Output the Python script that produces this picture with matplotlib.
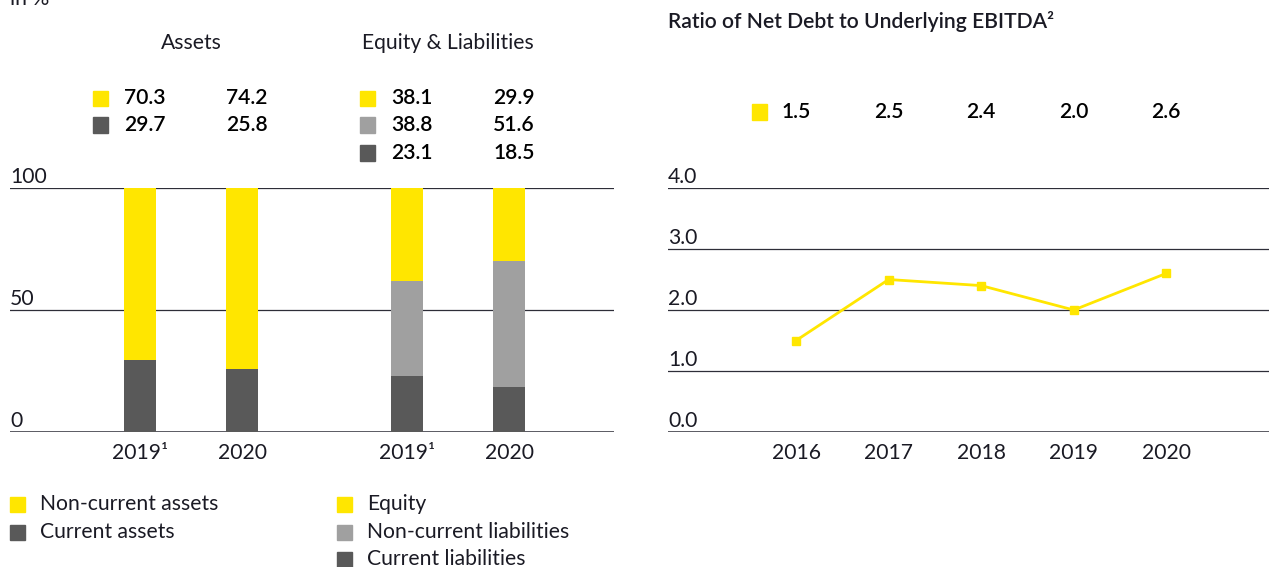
import matplotlib
matplotlib.use("Agg")
import matplotlib.pyplot as plt
import matplotlib.transforms as mtransforms
from matplotlib.patches import Rectangle

plt.rcParams['font.family'] = ['Lato', 'DejaVu Sans']

# ---- data ----
asset_years = ["2019¹", "2020"]
noncurrent_assets = [70.3, 74.2]
current_assets = [29.7, 25.8]

eq_years = ["2019¹", "2020"]
equity = [38.1, 29.9]
noncurrent_liab = [38.8, 51.6]
current_liab = [23.1, 18.5]

ratio_years = [2016, 2017, 2018, 2019, 2020]
ratio_values = [1.5, 2.5, 2.4, 2.0, 2.6]

left_yticks = [0, 50, 100]
right_yticks = [0.0, 1.0, 2.0, 3.0, 4.0]

YELLOW = "#FFE600"
DARK = "#595959"
LIGHT = "#A0A0A0"
LINE = "#2E2E38"
TXT = "#1A1A24"

W, H = 1269, 567
fig = plt.figure(figsize=(W / 100, H / 100), dpi=100)


def fy(ypix):
    return 1 - ypix / H


def fx(xpix):
    return xpix / W


FS = 15.2
VW = 600  # weight of value labels / title

# ---- left axes ----
axL = fig.add_axes([fx(10), fy(432), fx(614) - fx(10), (432 - 188) / H])
pos_assets = [0.0, 1.0]
pos_eq = [2.618, 3.618]
bw = 0.314
axL.bar(pos_assets, current_assets, bw, color=DARK, zorder=2)
axL.bar(pos_assets, noncurrent_assets, bw, bottom=current_assets, color=YELLOW, zorder=2)
axL.bar(pos_eq, current_liab, bw, color=DARK, zorder=2)
bot2 = [a + b for a, b in zip(current_liab, noncurrent_liab)]
axL.bar(pos_eq, noncurrent_liab, bw, bottom=current_liab, color=LIGHT, zorder=2)
axL.bar(pos_eq, equity, bw, bottom=bot2, color=YELLOW, zorder=2)
axL.set_xlim(-1.275, 4.647)
axL.set_ylim(0, 100)
for v in left_yticks:
    axL.axhline(v, color=LINE, lw=1.1 if v == 0 else 0.9, zorder=1)
    axL.annotate(str(v), xy=(0, v), xycoords=('axes fraction', 'data'),
                 xytext=(0, 0.5), textcoords='offset points',
                 ha='left', va='bottom', fontsize=FS, color=TXT)
axL.set_xticks(pos_assets + pos_eq)
axL.set_xticklabels(asset_years + eq_years, fontsize=FS, color=TXT)
axL.tick_params(axis='x', length=0, pad=8)
axL.set_yticks([])
for s in axL.spines.values():
    s.set_visible(False)
axL.patch.set_alpha(0)

trL = mtransforms.blended_transform_factory(axL.transData, fig.transFigure)

# headings
axL.text((pos_assets[0] + pos_assets[1]) / 2, fy(43), "Assets", transform=trL,
         ha='center', va='center', fontsize=FS, color=TXT)
axL.text((pos_eq[0] + pos_eq[1]) / 2 - 0.1, fy(43), "Equity & Liabilities", transform=trL,
         ha='center', va='center', fontsize=FS, color=TXT)

# value tables
def value_table(positions, rows, colors, ys):
    for (vals, col, y) in zip(rows, colors, ys):
        left0 = positions[0] - bw / 2
        axL.add_patch(Rectangle((left0 - 0.304, fy(y) - 7.5 / H), 0.147, 15 / H,
                                transform=trL, color=col, clip_on=False))
        for p, v in zip(positions, vals):
            axL.text(p - bw / 2, fy(y), f"{v:.1f}", transform=trL, ha='left',
                     va='center', fontsize=FS, color='black', fontweight=VW)

value_table(pos_assets, [noncurrent_assets, current_assets], [YELLOW, DARK], [98, 125])
value_table(pos_eq, [equity, noncurrent_liab, current_liab], [YELLOW, LIGHT, DARK], [98, 125, 153])

# bottom legend
def legend_item(xpix, ypix, col, label):
    fig.patches.append(Rectangle((fx(xpix), fy(ypix) - 7.5 / H), 15 / W, 15 / H,
                                 transform=fig.transFigure, color=col))
    fig.text(fx(xpix + 30), fy(ypix), label, ha='left', va='center', fontsize=FS, color=TXT)

legend_item(10, 504, YELLOW, "Non-current assets")
legend_item(10, 532, DARK, "Current assets")
legend_item(337, 504, YELLOW, "Equity")
legend_item(337, 532, LIGHT, "Non-current liabilities")
legend_item(337, 559, DARK, "Current liabilities")

fig.text(fx(10), fy(5), "in %", ha='left', va='baseline', fontsize=FS, color=TXT)

# ---- right axes ----
axR = fig.add_axes([fx(668), fy(432), 1 - fx(668), (432 - 188) / H])
axR.plot(ratio_years, ratio_values, color=YELLOW, lw=2, marker='s', ms=6, zorder=3)
axR.set_xlim(2016 - 1.384, 2016 + 5.11)
axR.set_ylim(0, 4)
for v in right_yticks:
    axR.axhline(v, color=LINE, lw=1.1 if v == 0 else 0.9, zorder=1)
    axR.annotate(f"{v:.1f}", xy=(0, v), xycoords=('axes fraction', 'data'),
                 xytext=(0, 0.5), textcoords='offset points',
                 ha='left', va='bottom', fontsize=FS, color=TXT)
axR.set_xticks(ratio_years)
axR.set_xticklabels([str(y) for y in ratio_years], fontsize=FS, color=TXT)
axR.tick_params(axis='x', length=0, pad=8)
axR.set_yticks([])
for s in axR.spines.values():
    s.set_visible(False)
axR.patch.set_alpha(0)

trR = mtransforms.blended_transform_factory(axR.transData, fig.transFigure)
for yr, v in zip(ratio_years, ratio_values):
    axR.text(yr, fy(112), f"{v:.1f}", transform=trR, ha='center', va='center',
             fontsize=FS, color='black', fontweight=VW)
axR.add_patch(Rectangle((ratio_years[0] - 0.476, fy(112) - 7.5 / H), 15 / 92.5, 15 / H,
                        transform=trR, color=YELLOW, clip_on=False))

fig.text(fx(668), fy(22), "Ratio of Net Debt to Underlying EBITDA²", ha='left', va='center',
         fontsize=FS, color=TXT, fontweight=VW)

fig.savefig("out.png", dpi=100)
